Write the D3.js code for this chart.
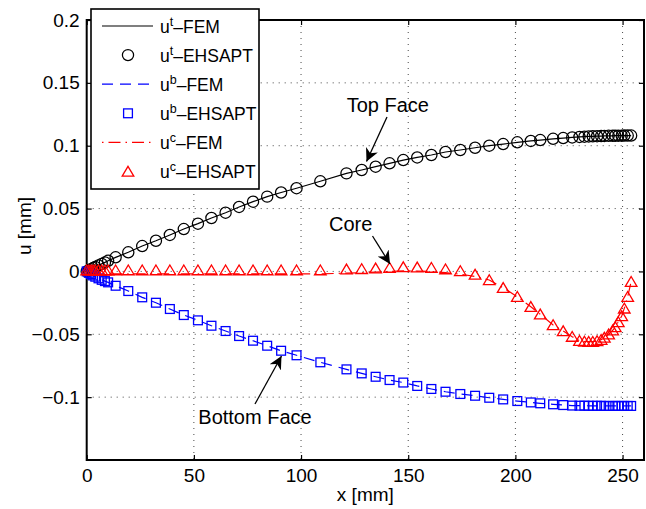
<!DOCTYPE html>
<html>
<head>
<meta charset="utf-8">
<script src="https://cdn.jsdelivr.net/npm/d3@7"></script>
<style>
  body { margin: 0; background: #fff; }
  svg { display: block; font-family: "Liberation Sans", Arial, Helvetica, sans-serif; }
</style>
</head>
<body>
<div id="chart"></div>
<script>
// positions along the beam (shared by all series)
var xPos = [0, 1, 2, 3, 4, 5.5, 7, 8.5, 10, 13.5,
  19.4, 25.9, 32.3, 38.8, 45.3, 51.9, 58.2, 64.8, 71.1, 77.6,
  84.2, 90.7, 97.9, 109, 121.2, 128.3, 134.8, 141.3, 147.7, 154.2,
  160.8, 167.4, 174.3, 181.2, 187.8, 194.3, 200.9, 207.2, 211.6, 217.6, 222.3, 226.5,
  229.9, 232.2, 234.2, 236.1, 238.1, 240, 241.5, 243.5, 245.4, 246.6, 248, 249.6, 250.8, 252.4, 254];

var topFace = [0, 0.0009, 0.0018, 0.0027, 0.0035, 0.0047, 0.006, 0.0072, 0.0085, 0.0112,
  0.0152, 0.0202, 0.0244, 0.029, 0.0337, 0.038, 0.0425, 0.0467, 0.0513, 0.0555,
  0.0595, 0.0628, 0.0662, 0.0717, 0.078, 0.0807, 0.0833, 0.086, 0.0886, 0.0907,
  0.0926, 0.095, 0.0966, 0.0984, 0.1, 0.1013, 0.1027, 0.1038, 0.1045, 0.1055, 0.1061, 0.1066,
  0.107, 0.1072, 0.1074, 0.1075, 0.1076, 0.1077, 0.1078, 0.1079, 0.1079, 0.108, 0.108, 0.108, 0.1081, 0.1081, 0.1081];

var bottomFace = [0, -0.0011, -0.0022, -0.0032, -0.0042, -0.0055, -0.0067, -0.0077, -0.0087, -0.0114,
  -0.0156, -0.0206, -0.0249, -0.0299, -0.0347, -0.0389, -0.0432, -0.0474, -0.0514, -0.0551,
  -0.0591, -0.0631, -0.0667, -0.0723, -0.0779, -0.0811, -0.0838, -0.0864, -0.0884, -0.0911,
  -0.0935, -0.0957, -0.0975, -0.0989, -0.1005, -0.1018, -0.1031, -0.1042, -0.1049, -0.1057, -0.1063, -0.1067,
  -0.1068, -0.1068, -0.1069, -0.1069, -0.1069, -0.1069, -0.107, -0.107, -0.107, -0.107, -0.107, -0.107, -0.107, -0.107, -0.107];

var coreEhsapt = [0.001, 0.001, 0.001, 0.001, 0.001, 0.001, 0.001, 0.001, 0.001, 0.001,
  0.001, 0.001, 0.001, 0.001, 0.001, 0.001, 0.001, 0.001, 0.001, 0.001,
  0.001, 0.001, 0.001, 0.001, 0.0017, 0.002, 0.0025, 0.003, 0.0035, 0.0033,
  0.003, 0.0018, 0.0004, -0.0025, -0.0068, -0.013, -0.0201, -0.0281, -0.0341, -0.0426, -0.0474, -0.0519,
  -0.0551, -0.0557, -0.0559, -0.0559, -0.0553, -0.0543, -0.0526, -0.05, -0.0468, -0.0442, -0.0402, -0.0355, -0.0294, -0.0201, -0.0082];

var coreFem = [-0.002, -0.002, -0.002, -0.002, -0.002, -0.002, -0.002, -0.002, -0.002, -0.002,
  -0.002, -0.002, -0.002, -0.002, -0.002, -0.002, -0.002, -0.002, -0.002, -0.002,
  -0.002, -0.002, -0.002, -0.002, -0.0013, -0.001, -0.0005, 0, 0.0005, 0.0003,
  0, -0.001, -0.0022, -0.004, -0.0068, -0.013, -0.0201, -0.0281, -0.0341, -0.0426, -0.0474, -0.0519,
  -0.0551, -0.0557, -0.0559, -0.0559, -0.0553, -0.0543, -0.0526, -0.05, -0.0468, -0.0442, -0.0402, -0.0355, -0.0294, -0.0201, -0.0082];

var xTicks = [0, 50, 100, 150, 200, 250];
var yTicks = [-0.1, -0.05, 0, 0.05, 0.1, 0.15, 0.2];
var yTickLabels = ["\u22120.1", "\u22120.05", "0", "0.05", "0.1", "0.15", "0.2"];

var legendLabels = [["u", "t", "\u2013FEM"], ["u", "t", "\u2013EHSAPT"], ["u", "b", "\u2013FEM"],
  ["u", "b", "\u2013EHSAPT"], ["u", "c", "\u2013FEM"], ["u", "c", "\u2013EHSAPT"]];

var W = 646, H = 509;
var pL = 86.7, pR = 644, pT = 20, pB = 460;

var svg = d3.select('#chart').append('svg')
  .attr('width', W)
  .attr('height', H);

var x = d3.scaleLinear().domain([0, 260]).range([pL, pR]);
var y = d3.scaleLinear().domain([-0.15, 0.2]).range([pB, pT]);

// grid
var grid = svg.append('g');
grid.selectAll('.gx').data(xTicks.slice(1)).enter().append('line')
  .attr('x1', function(d) { return x(d); }).attr('x2', function(d) { return x(d); })
  .attr('y1', pT).attr('y2', pB)
  .style('stroke', '#333').style('stroke-width', 0.9).style('stroke-dasharray', '1,5');
grid.selectAll('.gy').data(yTicks).enter().append('line')
  .attr('x1', pL).attr('x2', pR)
  .attr('y1', function(d) { return y(d); }).attr('y2', function(d) { return y(d); })
  .style('stroke', '#333').style('stroke-width', 0.9).style('stroke-dasharray', '1,5');

// axes
var xAxis = svg.append('g').attr('transform', 'translate(0,' + pB + ')')
  .call(d3.axisBottom(x).tickValues(xTicks).tickSizeInner(-5).tickSizeOuter(0).tickPadding(9));
var xAxisTop = svg.append('g').attr('transform', 'translate(0,' + pT + ')')
  .call(d3.axisTop(x).tickValues(xTicks).tickSizeInner(-5).tickSizeOuter(0).tickFormat(''));
var yAxis = svg.append('g').attr('transform', 'translate(' + pL + ',0)')
  .call(d3.axisLeft(y).tickValues(yTicks).tickSizeInner(-5).tickSizeOuter(0).tickPadding(7)
    .tickFormat(function(d, i) { return yTickLabels[i]; }));
var yAxisRight = svg.append('g').attr('transform', 'translate(' + pR + ',0)')
  .call(d3.axisRight(y).tickValues(yTicks).tickSizeInner(-5).tickSizeOuter(0).tickFormat(''));

[xAxis, xAxisTop, yAxis, yAxisRight].forEach(function(a) {
  a.select('.domain').remove();
  a.selectAll('.tick line').style('stroke', '#000').style('stroke-width', 1.2);
  a.selectAll('text').style('font-size', '19px').style('fill', '#000')
    .style('font-family', '"Liberation Sans", Arial, sans-serif');
});

svg.append('rect')
  .attr('x', pL).attr('y', pT)
  .attr('width', pR - pL).attr('height', pB - pT)
  .style('fill', 'none').style('stroke', '#000').style('stroke-width', 2);

// series
var pts = function(arr) { return xPos.map(function(d, i) { return [d, arr[i]]; }); };
var line = d3.line().x(function(d) { return x(d[0]); }).y(function(d) { return y(d[1]); });

svg.append('path').datum(pts(topFace)).attr('d', line)
  .style('fill', 'none').style('stroke', '#000').style('stroke-width', 1.2);
svg.append('path').datum(pts(bottomFace)).attr('d', line)
  .style('fill', 'none').style('stroke', '#0000ff').style('stroke-width', 1.2).style('stroke-dasharray', '11,7');
svg.append('path').datum(pts(coreFem)).attr('d', line)
  .style('fill', 'none').style('stroke', '#ff0000').style('stroke-width', 1.2).style('stroke-dasharray', '12,5,1.5,5');

var triPath = 'M0,-5.2 L5.8,4.6 L-5.8,4.6 Z';

svg.append('g').selectAll('circle').data(pts(topFace)).enter().append('circle')
  .attr('cx', function(d) { return x(d[0]); }).attr('cy', function(d) { return y(d[1]); })
  .attr('r', 5.6)
  .style('fill', 'none').style('stroke', '#000').style('stroke-width', 1.25);

svg.append('g').selectAll('rect').data(pts(bottomFace)).enter().append('rect')
  .attr('x', function(d) { return x(d[0]) - 4.4; }).attr('y', function(d) { return y(d[1]) - 4.4; })
  .attr('width', 8.8).attr('height', 8.8)
  .style('fill', 'none').style('stroke', '#0000ff').style('stroke-width', 1.3);

svg.append('g').selectAll('path').data(pts(coreEhsapt)).enter().append('path')
  .attr('d', triPath)
  .attr('transform', function(d) { return 'translate(' + x(d[0]) + ',' + y(d[1]) + ')'; })
  .style('fill', 'none').style('stroke', '#ff0000').style('stroke-width', 1.3);

// axis labels
svg.append('text').attr('x', (pL + pR) / 2).attr('y', 501)
  .attr('text-anchor', 'middle').style('font-size', '19px').text('x [mm]');
svg.append('text').attr('transform', 'translate(31,' + 226 + ') rotate(-90)')
  .attr('text-anchor', 'middle').style('font-size', '19px').text('u [mm]');

// annotations
svg.append('defs').append('marker')
  .attr('id', 'head').attr('viewBox', '0 0 10 10').attr('refX', 10).attr('refY', 5)
  .attr('markerWidth', 13).attr('markerHeight', 13).attr('markerUnits', 'userSpaceOnUse')
  .attr('orient', 'auto')
  .append('path').attr('d', 'M0,0 L10,5 L0,10 L3,5 Z').style('fill', '#000');

var notes = [
  { text: 'Top Face', tx: 346.7, ty: 112, x1: 387, y1: 117, x2: 366.5, y2: 161.5 },
  { text: 'Core', tx: 329, ty: 231, x1: 372.5, y1: 236, x2: 390, y2: 264 },
  { text: 'Bottom Face', tx: 198.3, ty: 424, x1: 255, y1: 404, x2: 281.5, y2: 356 }
];
notes.forEach(function(n) {
  svg.append('text').attr('x', n.tx).attr('y', n.ty).style('font-size', '20px').text(n.text);
  svg.append('line').attr('x1', n.x1).attr('y1', n.y1).attr('x2', n.x2).attr('y2', n.y2)
    .style('stroke', '#000').style('stroke-width', 1.3).attr('marker-end', 'url(#head)');
});

// legend
var lg = svg.append('g');
lg.append('rect').attr('x', 91).attr('y', 9).attr('width', 168).attr('height', 180)
  .style('fill', '#fff').style('stroke', '#000').style('stroke-width', 1.6);

var rowY = function(i) { return 26 + i * 29.1; };
lg.append('line').attr('x1', 102).attr('x2', 153).attr('y1', rowY(0)).attr('y2', rowY(0))
  .style('stroke', '#000').style('stroke-width', 1.2);
lg.append('circle').attr('cx', 128).attr('cy', rowY(1)).attr('r', 5.6)
  .style('fill', 'none').style('stroke', '#000').style('stroke-width', 1.25);
lg.append('line').attr('x1', 102).attr('x2', 153).attr('y1', rowY(2)).attr('y2', rowY(2))
  .style('stroke', '#0000ff').style('stroke-width', 1.2).style('stroke-dasharray', '11,7');
lg.append('rect').attr('x', 128 - 4.4).attr('y', rowY(3) - 4.4).attr('width', 8.8).attr('height', 8.8)
  .style('fill', 'none').style('stroke', '#0000ff').style('stroke-width', 1.3);
lg.append('line').attr('x1', 102).attr('x2', 153).attr('y1', rowY(4)).attr('y2', rowY(4))
  .style('stroke', '#ff0000').style('stroke-width', 1.2).style('stroke-dasharray', '1.5,5,12,5');
lg.append('path').attr('d', triPath).attr('transform', 'translate(128,' + rowY(5) + ')')
  .style('fill', 'none').style('stroke', '#ff0000').style('stroke-width', 1.3);

legendLabels.forEach(function(l, i) {
  var t = lg.append('text').attr('x', 160).attr('y', rowY(i) + 6.5).style('font-size', '17.5px');
  t.append('tspan').text(l[0]);
  t.append('tspan').attr('dy', -7).style('font-size', '12.5px').text(l[1]);
  t.append('tspan').attr('dy', 7).text(l[2]);
});
</script>
</body>
</html>
